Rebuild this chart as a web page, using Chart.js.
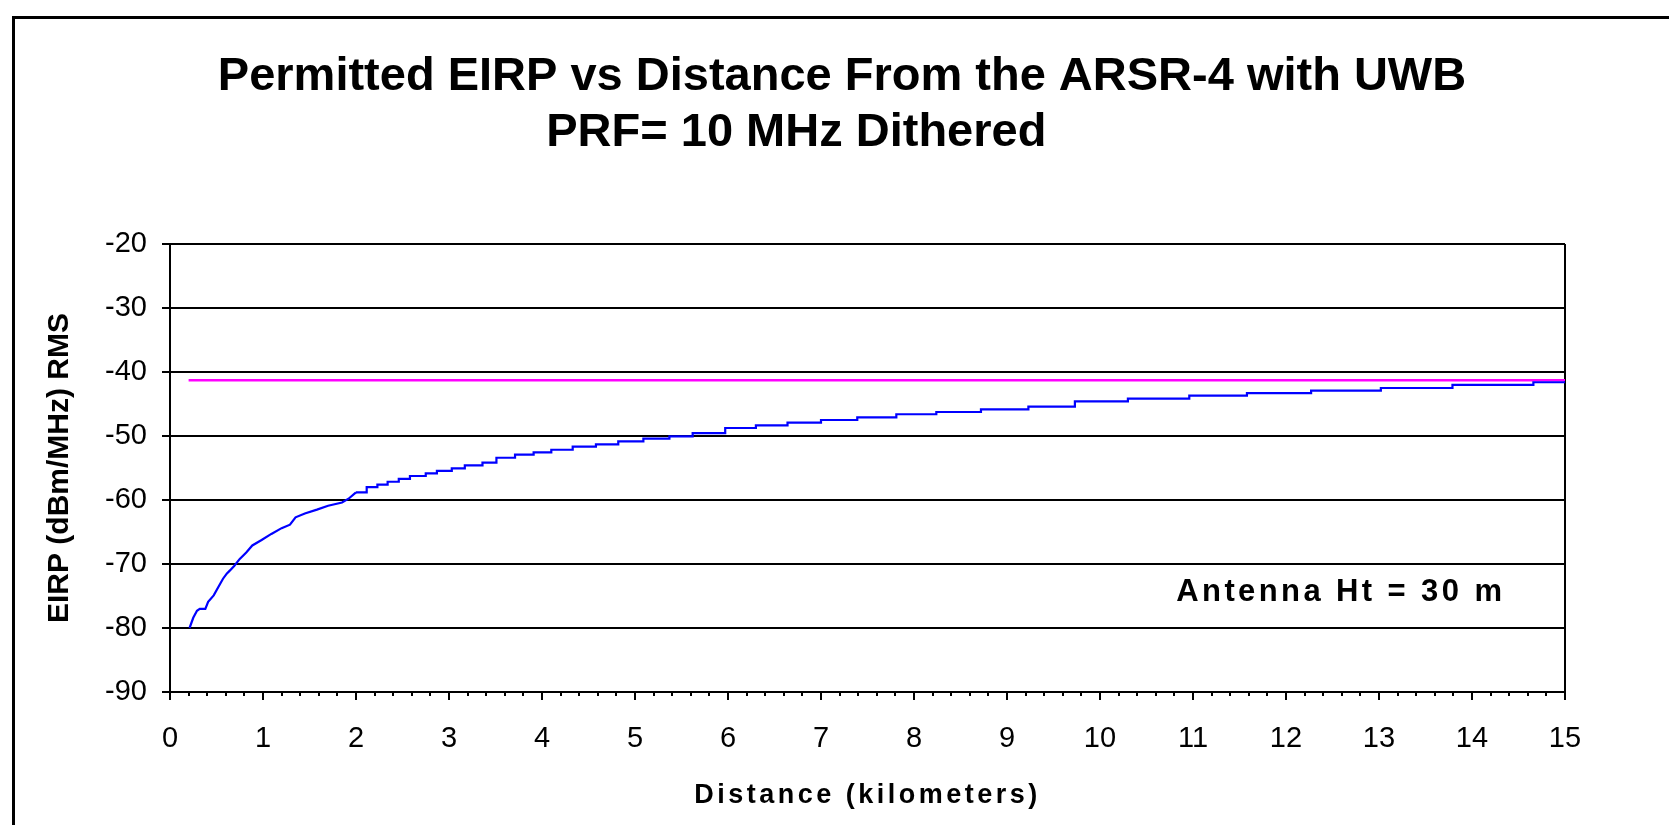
<!DOCTYPE html>
<html>
<head>
<meta charset="utf-8">
<script src="https://cdn.jsdelivr.net/npm/chart.js@4.4.1/dist/chart.umd.min.js"></script>
<style>
  html, body { margin: 0; padding: 0; background: #fff; }
  canvas { display: block; }
</style>
</head>
<body>
<canvas id="chart" width="1669" height="825"></canvas>
<script>
// Near range: the curve rises steeply, traced as points along it (km, dBm/MHz)
const nearKm = [0.21, 0.25, 0.29, 0.32, 0.38, 0.41, 0.47, 0.52, 0.57, 0.61,
  0.645, 0.69, 0.75, 0.82, 0.885, 0.985, 1.09, 1.2, 1.29, 1.35,
  1.45, 1.58, 1.7, 1.85, 1.92, 2.0];
const nearDbm = [-80, -78.4, -77.3, -77.0, -77.0, -75.9, -74.9, -73.6, -72.3, -71.5,
  -71.0, -70.3, -69.2, -68.2, -67.1, -66.25, -65.3, -64.4, -63.85, -62.7,
  -62.1, -61.5, -60.9, -60.4, -59.8, -58.8];

// Far range: distance where the permitted level steps up, and the new level
const stepKm = [2.0, 2.115, 2.23, 2.34, 2.46, 2.58, 2.75, 2.87, 3.03, 3.17,
  3.36, 3.51, 3.71, 3.91, 4.1, 4.33, 4.58, 4.82, 5.09, 5.37,
  5.62, 5.97, 6.3, 6.64, 7.0, 7.39, 7.81, 8.24, 8.72, 9.23,
  9.73, 10.3, 10.96, 11.58, 12.27, 13.02, 13.79, 14.66, 15.0];
const stepDbm = [-58.8, -58.0, -57.6, -57.15, -56.7, -56.25, -55.85, -55.45, -55.05, -54.6,
  -54.15, -53.4, -52.9, -52.55, -52.15, -51.65, -51.3, -50.85, -50.4, -50.05,
  -49.55, -48.75, -48.35, -47.9, -47.5, -47.1, -46.6, -46.25, -45.85, -45.4,
  -44.6, -44.15, -43.7, -43.3, -42.9, -42.5, -42.0, -41.6, -41.6];

// UWB limit line
const limitKm = [0.2, 15];
const limitDbm = [-41.3, -41.3];

const titleLines = ["Permitted EIRP vs Distance From the ARSR-4 with UWB", "PRF= 10 MHz Dithered       "];
const xTitle = "Distance (kilometers)";
const yTitle = "EIRP (dBm/MHz) RMS";
const noteText = "Antenna Ht = 30 m";
const notePos = { x: 10.82, y: -74.5 };

const FONT = "'Liberation Sans', Arial, sans-serif";
Chart.defaults.font.family = FONT;
Chart.defaults.color = "#000";

const toPoints = (xs, ys) => xs.map((d, i) => ({ x: d, y: ys[i] }));

// white page, frame, minor ticks, x title and note
const decorPlugin = {
  id: "decor",
  afterLayout(chart) {
    // title centred on the frame, not the plot
    chart.titleBlock.left = 15;
    chart.titleBlock.right = 1669;
  },
  beforeDraw(chart) {
    const ctx = chart.ctx;
    ctx.save();
    ctx.fillStyle = "#fff";
    ctx.fillRect(0, 0, chart.width, chart.height);
    ctx.strokeStyle = "#000";
    ctx.lineWidth = 3;
    ctx.strokeRect(13.5, 17.5, 1700, 900);
    ctx.restore();
  },
  afterDraw(chart) {
    const ctx = chart.ctx;
    const xs = chart.scales.x;
    const ys = chart.scales.y;
    const area = chart.chartArea;
    ctx.save();
    ctx.strokeStyle = "#000";
    ctx.lineWidth = 2;
    ctx.beginPath();
    for (let i = 1; i < 75; i++) {
      if (i % 5 === 0) continue;
      const px = Math.round(xs.getPixelForValue(i / 5));
      ctx.moveTo(px, area.bottom);
      ctx.lineTo(px, area.bottom + 4);
    }
    ctx.stroke();

    ctx.fillStyle = "#000";
    ctx.font = "bold 27px " + FONT;
    ctx.letterSpacing = "3.5px";
    ctx.textAlign = "center";
    ctx.textBaseline = "middle";
    ctx.fillText(xTitle, (area.left + area.right) / 2, 796);

    ctx.font = "bold 31px " + FONT;
    ctx.letterSpacing = "3.4px";
    ctx.textAlign = "left";
    ctx.fillText(noteText, xs.getPixelForValue(notePos.x), ys.getPixelForValue(notePos.y));
    ctx.restore();
  }
};

const blueLine = { borderColor: "#0000ff", borderWidth: 2.2, pointRadius: 0, fill: false };

new Chart(document.getElementById("chart"), {
  type: "line",
  data: {
    datasets: [
      Object.assign({ label: "Permitted EIRP (near)", data: toPoints(nearKm, nearDbm) }, blueLine),
      Object.assign({ label: "Permitted EIRP", data: toPoints(stepKm, stepDbm), stepped: true }, blueLine),
      {
        label: "UWB limit",
        data: toPoints(limitKm, limitDbm),
        borderColor: "#ff00ff",
        borderWidth: 2.5,
        pointRadius: 0,
        fill: false
      }
    ]
  },
  options: {
    responsive: false,
    animation: false,
    devicePixelRatio: 1,
    layout: { padding: { top: 0, left: 0, right: 104, bottom: 0 } },
    plugins: {
      legend: { display: false },
      tooltip: { enabled: false },
      title: {
        display: true,
        text: titleLines,
        color: "#000",
        font: { size: 47, weight: "bold", lineHeight: 56 / 47 },
        padding: { top: 49, bottom: 83 }
      }
    },
    scales: {
      x: {
        type: "linear",
        min: 0,
        max: 15,
        ticks: { stepSize: 1, font: { size: 29 }, padding: 22, maxRotation: 0 },
        grid: {
          color: (c) => (c.tick && c.tick.value === 15 ? "#000" : "rgba(0,0,0,0)"),
          tickColor: "#000",
          lineWidth: 2,
          tickLength: 8
        },
        border: { color: "#000", width: 2 },
        afterFit(scale) { scale.height = 133; }
      },
      y: {
        min: -90,
        max: -20,
        ticks: { stepSize: 10, font: { size: 29 }, padding: 15 },
        grid: { color: "#000", lineWidth: 2, tickLength: 8 },
        border: { color: "#000", width: 2 },
        title: {
          display: true,
          text: yTitle,
          font: { size: 30, weight: "bold" },
          padding: { top: 42, bottom: 0 }
        },
        afterFit(scale) { scale.width = 170; }
      }
    }
  },
  plugins: [decorPlugin]
});
</script>
</body>
</html>
